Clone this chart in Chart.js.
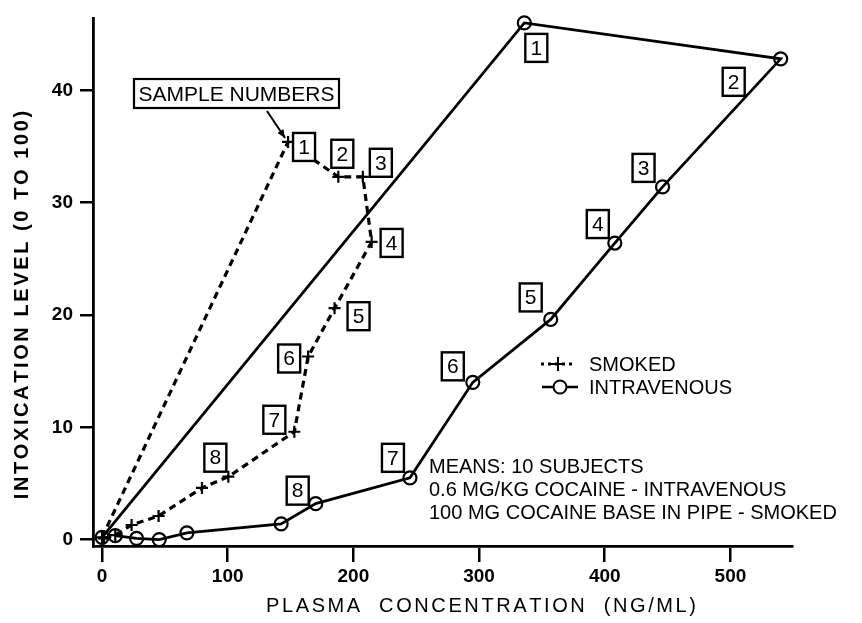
<!DOCTYPE html>
<html>
<head>
<meta charset="utf-8">
<script src="https://cdn.jsdelivr.net/npm/chart.js@4/dist/chart.umd.min.js"></script>
<style>
    html, body { margin: 0; padding: 0; background: #fff; }
    #wrap { width: 862px; height: 623px; }
</style>
</head>
<body>
<div id="wrap"><canvas id="myChart"></canvas></div>
<script>
// values; index 0 is the baseline, 1..8 are the numbered samples
const smokedConc  = [0, 148, 188, 207.5, 214.5, 185, 164, 153, 100.5, 79.5, 45, 23.5, 10.5, 1.5];
const smokedLevel = [0.2, 35.4, 32.3, 32.3, 26.5, 20.6, 16.3, 9.6, 5.6, 4.6, 2.1, 1.3, 0.4, 0.1];
const ivConc  = [0, 336, 540, 446, 408, 357, 295, 245, 170, 142.5, 67.5, 45.5, 27.5, 10.5];
const ivLevel = [0.2, 46.0, 42.8, 31.4, 26.4, 19.6, 14.0, 5.5, 3.2, 1.4, 0.6, 0.0, 0.1, 0.35];
const sampleNumbers = [1, 2, 3, 4, 5, 6, 7, 8];
const xTicks = [0, 100, 200, 300, 400, 500];
const yTicks = [0, 10, 20, 30, 40];

const xTitle = 'PLASMA  CONCENTRATION  (NG/ML)';
const yTitle = 'INTOXICATION LEVEL (0 TO 100)';
const legendLabels = ['SMOKED', 'INTRAVENOUS'];
const noteLines = ['MEANS: 10 SUBJECTS', '0.6 MG/KG COCAINE - INTRAVENOUS', '100 MG COCAINE BASE IN PIPE - SMOKED'];
const calloutText = 'SAMPLE NUMBERS';

// where each sample box sits relative to its point (px)
const smokedBoxOffset = [[16, 5], [4, -23], [18, -14], [20, 1], [24, 8], [-19, 2], [-20, -12], [-13, -19]];
const ivBoxOffset = [[12, 25], [-47, 23], [-19, -19], [-17, -19], [-20, -22], [-20, -16], [-17, -20], [-18, -13]];

const FONT = '"Liberation Sans", Arial, Helvetica, sans-serif';

function toPoints(xs, ys) {
    return xs.map((x, i) => ({ x: x, y: ys[i] }));
}

// draw text with extra spacing between letters, centred on cx
function spacedText(ctx, text, cx, cy, spacing) {
    let total = 0;
    for (const ch of text) total += ctx.measureText(ch).width + spacing;
    total -= spacing;
    let x = cx - total / 2;
    ctx.textAlign = 'left';
    for (const ch of text) {
        ctx.fillText(ch, x, cy);
        x += ctx.measureText(ch).width + spacing;
    }
}

function numberBox(ctx, cx, cy, label) {
    const w = 22, h = 28;
    ctx.fillStyle = '#fff';
    ctx.fillRect(cx - w / 2, cy - h / 2, w, h);
    ctx.strokeStyle = '#000';
    ctx.lineWidth = 2.4;
    ctx.strokeRect(cx - w / 2, cy - h / 2, w, h);
    ctx.fillStyle = '#000';
    ctx.font = '21px ' + FONT;
    ctx.textAlign = 'center';
    ctx.textBaseline = 'middle';
    ctx.fillText(label, cx, cy + 1);
}

const extras = {
    id: 'extras',
    afterDatasetsDraw(chart) {
        const ctx = chart.ctx;
        ctx.save();

        // numbered boxes next to the samples
        const smoked = chart.getDatasetMeta(0).data;
        const iv = chart.getDatasetMeta(1).data;
        sampleNumbers.forEach((n, i) => {
            const p = smoked[n];
            numberBox(ctx, p.x + smokedBoxOffset[i][0], p.y + smokedBoxOffset[i][1], String(n));
            const q = iv[n];
            numberBox(ctx, q.x + ivBoxOffset[i][0], q.y + ivBoxOffset[i][1], String(n));
        });

        // "SAMPLE NUMBERS" callout
        ctx.strokeStyle = '#000';
        ctx.lineWidth = 2.2;
        ctx.strokeRect(134, 79, 205, 29);
        ctx.fillStyle = '#000';
        ctx.font = '21px ' + FONT;
        ctx.textAlign = 'center';
        ctx.textBaseline = 'middle';
        ctx.fillText(calloutText, 236.5, 95);
        const tip = { x: smoked[1].x - 3, y: smoked[1].y - 4 };
        ctx.lineWidth = 2;
        ctx.beginPath();
        ctx.moveTo(267, 111);
        ctx.lineTo(tip.x, tip.y);
        ctx.stroke();
        const ang = Math.atan2(tip.y - 111, tip.x - 267);
        ctx.beginPath();
        ctx.moveTo(tip.x, tip.y);
        ctx.lineTo(tip.x - 9 * Math.cos(ang - 0.4), tip.y - 9 * Math.sin(ang - 0.4));
        ctx.lineTo(tip.x - 9 * Math.cos(ang + 0.4), tip.y - 9 * Math.sin(ang + 0.4));
        ctx.closePath();
        ctx.fill();

        // legend
        ctx.lineWidth = 3;
        ctx.setLineDash([3, 4]);
        ctx.beginPath();
        ctx.moveTo(541, 364);
        ctx.lineTo(573, 364);
        ctx.stroke();
        ctx.setLineDash([]);
        ctx.lineWidth = 2;
        ctx.beginPath();
        ctx.moveTo(551, 364); ctx.lineTo(565, 364);
        ctx.moveTo(558, 357); ctx.lineTo(558, 371);
        ctx.stroke();
        ctx.lineWidth = 2.5;
        ctx.beginPath();
        ctx.moveTo(542, 387); ctx.lineTo(578, 387);
        ctx.stroke();
        ctx.beginPath();
        ctx.arc(560, 387, 6.5, 0, Math.PI * 2);
        ctx.fillStyle = '#fff';
        ctx.fill();
        ctx.lineWidth = 2;
        ctx.stroke();
        ctx.fillStyle = '#000';
        ctx.font = '20px ' + FONT;
        ctx.textAlign = 'left';
        ctx.fillText(legendLabels[0], 589, 365);
        ctx.fillText(legendLabels[1], 589, 388);

        // notes
        ctx.font = '20px ' + FONT;
        noteLines.forEach((line, i) => ctx.fillText(line, 429, 467 + i * 23));

        // axis titles
        ctx.font = '20px ' + FONT;
        spacedText(ctx, xTitle, 481, 606, 2.6);
        ctx.translate(22, 305);
        ctx.rotate(-Math.PI / 2);
        ctx.font = 'bold 20px ' + FONT;
        spacedText(ctx, yTitle, 0, 0, 2.6);

        ctx.restore();
    }
};

function makeChart() {
    const ctx = document.getElementById('myChart');

    new Chart(ctx, {
        type: 'scatter',
        data: {
            datasets: [{
                label: legendLabels[0],
                data: toPoints(smokedConc, smokedLevel),
                showLine: true,
                borderColor: '#000',
                borderWidth: 3.2,
                borderDash: [7, 5],
                pointStyle: 'cross',
                pointRadius: 6,
                pointBorderWidth: 2.2,
                pointBorderColor: '#000',
                clip: false
            }, {
                label: legendLabels[1],
                data: toPoints(ivConc, ivLevel),
                showLine: true,
                borderColor: '#000',
                borderWidth: 2.8,
                pointStyle: 'circle',
                pointRadius: 6.5,
                pointBorderWidth: 2.2,
                pointBorderColor: '#000',
                pointBackgroundColor: 'rgba(255,255,255,0)',
                clip: false
            }]
        },
        options: {
            responsive: true,
            maintainAspectRatio: false,
            animation: false,
            devicePixelRatio: 1,
            layout: { padding: { top: 9, right: 70, left: 0, bottom: 0 } },
            plugins: {
                legend: { display: false },
                tooltip: { enabled: false }
            },
            scales: {
                x: {
                    type: 'linear',
                    min: -7.2,
                    max: 549,
                    afterBuildTicks: s => { s.ticks = xTicks.map(v => ({ value: v })); },
                    afterFit: s => { s.height = 77; },
                    border: { display: true, color: '#000', width: 2.8 },
                    grid: { drawOnChartArea: false, drawTicks: true, tickLength: 16, color: '#000', lineWidth: 2.5 },
                    ticks: { color: '#000', font: { family: FONT, size: 19, weight: 'bold' }, padding: 3, maxRotation: 0 }
                },
                y: {
                    type: 'linear',
                    min: -0.57,
                    max: 46.4,
                    afterBuildTicks: s => { s.ticks = yTicks.map(v => ({ value: v })); },
                    afterFit: s => { s.width = 93; },
                    border: { display: true, color: '#000', width: 2.8 },
                    grid: { drawOnChartArea: false, drawTicks: true, tickLength: 13, color: '#000', lineWidth: 2.5 },
                    ticks: { color: '#000', font: { family: FONT, size: 19, weight: 'bold' }, padding: 7 }
                }
            }
        },
        plugins: [extras]
    });
}

makeChart();
</script>
</body>
</html>
